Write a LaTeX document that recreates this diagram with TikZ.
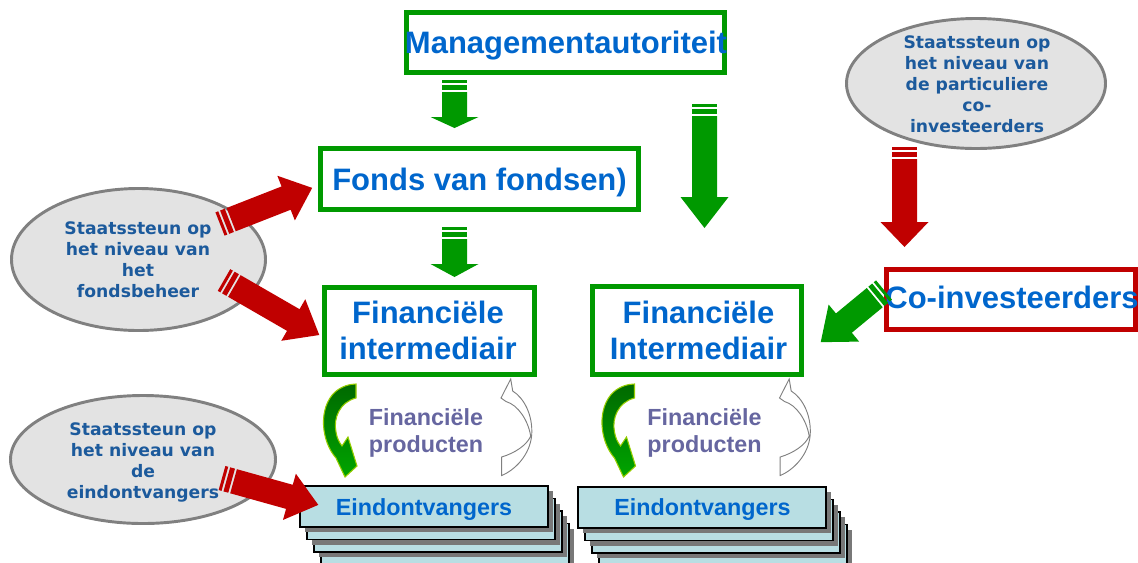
\documentclass[tikz,border=0pt]{standalone}
\usepackage{fontspec}
\usetikzlibrary{shapes.geometric}
\newfontfamily\lsans{Liberation Sans}
\newfontfamily\dvs{DejaVu Sans}
\definecolor{gGreen}{RGB}{0,153,0}
\definecolor{gRed}{RGB}{192,0,0}
\definecolor{tBlue}{RGB}{0,102,204}
\definecolor{eBlue}{RGB}{28,90,156}
\definecolor{eFill}{RGB}{227,227,227}
\definecolor{eLine}{RGB}{128,128,128}
\definecolor{pText}{RGB}{102,102,160}
\definecolor{stackFill}{RGB}{184,222,227}
\definecolor{shadowC}{RGB}{120,120,120}
\definecolor{cDark}{RGB}{0,105,0}
\definecolor{cLight}{RGB}{0,165,0}
\definecolor{cEdge}{RGB}{150,205,0}

\newcommand\blockarr[5]{%
  \begin{scope}[shift={#2}, rotate=#3]
    \fill[#1] (0,-12.5) rectangle (3,12.5);
    \fill[#1] (5,-12.5) rectangle (10,12.5);
    \fill[#1] (12,-12.5) -- ({#4-#5},-12.5) -- ({#4-#5},-24) -- (#4,0) -- ({#4-#5},24) -- ({#4-#5},12.5) -- (12,12.5) -- cycle;
  \end{scope}}

\newcommand\eindstack[2]{%
  \foreach \k in {3,2,1}{
    \fill[shadowC] ({#1+7*\k+5},{#2+12.5*\k+5}) rectangle ++(248,41);
    \draw[fill=stackFill, line width=0.9pt] ({#1+7*\k},{#2+12.5*\k}) rectangle ++(248,41);
  }
  \fill[shadowC] ({#1+5},{#2+5}) rectangle ++(248,41);}

\newcommand\curvepair{%
  \shade[top color=cDark, bottom color=cLight, draw=cEdge, line width=0.8pt]
    (356,384) -- (356,398)
    .. controls (340,402) and (333,418) .. (336,432)
    .. controls (337,438) and (339,442) .. (342,446)
    -- (348,437) -- (357,466) -- (345,477) -- (336,458)
    .. controls (321,441) and (318,408) .. (335,392)
    .. controls (342,386) and (350,384) .. (356,384) -- cycle;
  \draw[fill=white, draw=eLine, line width=0.7pt]
    (510.7,379) -- (512.7,391)
    .. controls (524,398) and (533,415) .. (531.7,435)
    .. controls (530,455) and (515,470) .. (501.7,475.5)
    -- (501.7,457)
    .. controls (515,453) and (527,445) .. (530.7,436)
    .. controls (528,420) and (518,405) .. (506,401.5)
    -- (501,398) -- cycle;}

\begin{document}
\begin{tikzpicture}[x=0.75pt,y=-0.75pt,
  gbox/.style={rectangle, draw=gGreen, line width=4.1pt, inner sep=0pt},
  rbox/.style={rectangle, draw=gRed, line width=3.8pt, inner sep=0pt},
  ellbox/.style={ellipse, draw=eLine, fill=eFill, line width=2.2pt, inner sep=0pt},
  frontbox/.style={rectangle, draw=black, fill=stackFill, line width=0.9pt, inner sep=0pt,
    minimum width={248*0.75pt}, minimum height={41*0.75pt}},
  titletext/.style={text=tBlue, inner sep=0pt, align=center,
    font=\lsans\bfseries\fontsize{23.25}{27}\selectfont},
  eindtext/.style={text=tBlue, inner sep=0pt,
    font=\lsans\bfseries\fontsize{17.5}{20}\selectfont},
  prodtext/.style={text=pText, inner sep=0pt, align=center,
    font=\lsans\bfseries\fontsize{17.5}{20.25}\selectfont},
  elltext/.style={text=eBlue, inner sep=0pt, align=center,
    font=\dvs\bfseries\fontsize{12.9}{15.75}\selectfont}
]
\useasboundingbox (0,0) rectangle (1138,562);

% ellipses
\node[ellbox, minimum width={259*0.75pt}, minimum height={130*0.75pt}] (eTop) at (976,83.5) {};
\node[elltext] (eTopT) at (977,84) {Staatssteun op\\het niveau van\\de particuliere\\co-\\investeerders};
\node[ellbox, minimum width={254*0.75pt}, minimum height={142*0.75pt}] (eMid) at (138.5,259.5) {};
\node[elltext] (eMidT) at (138,260) {Staatssteun op\\het niveau van\\het\\fondsbeheer};
\node[ellbox, minimum width={265*0.75pt}, minimum height={128*0.75pt}] (eBot) at (143,459.5) {};
\node[elltext] (eBotT) at (143,462) {Staatssteun op\\het niveau van\\de\\eindontvangers};

% boxes
\node[gbox, minimum width={317.5*0.75pt}, minimum height={59.5*0.75pt}] (ma) at (565.5,42.5) {};
\node[titletext, anchor=base] (maT) at (566,53) {Managementautoriteit};
\node[gbox, minimum width={317.5*0.75pt}, minimum height={60.5*0.75pt}] (fvf) at (479.5,179) {};
\node[titletext, anchor=base] (fvfT) at (479.5,190) {Fonds van fondsen)};
\node[gbox, minimum width={209.5*0.75pt}, minimum height={86.5*0.75pt}] (finL) at (429.5,331) {};
\node[titletext] (finLT) at (428,330) {Financiële\\intermediair};
\node[gbox, minimum width={208.5*0.75pt}, minimum height={87.5*0.75pt}] (finR) at (697,330.5) {};
\node[titletext] (finRT) at (698.5,330) {Financiële\\Intermediair};
\node[rbox, minimum width={249*0.75pt}, minimum height={60*0.75pt}] (co) at (1011,299.5) {};
\node[titletext, anchor=base] (coT) at (1012,308) {Co-investeerders};

% stacks
\eindstack{300}{486}
\node[frontbox] (eindL) at (424,506.5) {};
\node[eindtext, anchor=base] (eindLT) at (424,515) {Eindontvangers};
\eindstack{578}{487}
\node[frontbox] (eindR) at (702,507.5) {};
\node[eindtext, anchor=base] (eindRT) at (702.5,515) {Eindontvangers};

% curved arrows and products
\curvepair
\node[prodtext] (prodL) at (426,432.5) {Financiële\\producten};
\begin{scope}[shift={(278.5,0)}]
\curvepair
\end{scope}
\node[prodtext] (prodR) at (704.5,432.5) {Financiële\\producten};

% block arrows
\blockarr{gGreen}{(454.5,80)}{-90}{48}{11}
\blockarr{gGreen}{(454.5,227)}{-90}{50}{13}
\blockarr{gGreen}{(704.5,104)}{-90}{124}{31}
\blockarr{gRed}{(904.5,147)}{-90}{100}{25}
\blockarr{gRed}{(220,224)}{21.4}{99}{28}
\blockarr{gRed}{(224,280)}{-30}{110}{30}
\blockarr{gRed}{(222,478)}{-15.6}{100}{30}
\blockarr{gGreen}{(884,290)}{-140.5}{82}{30}
\end{tikzpicture}
\end{document}
